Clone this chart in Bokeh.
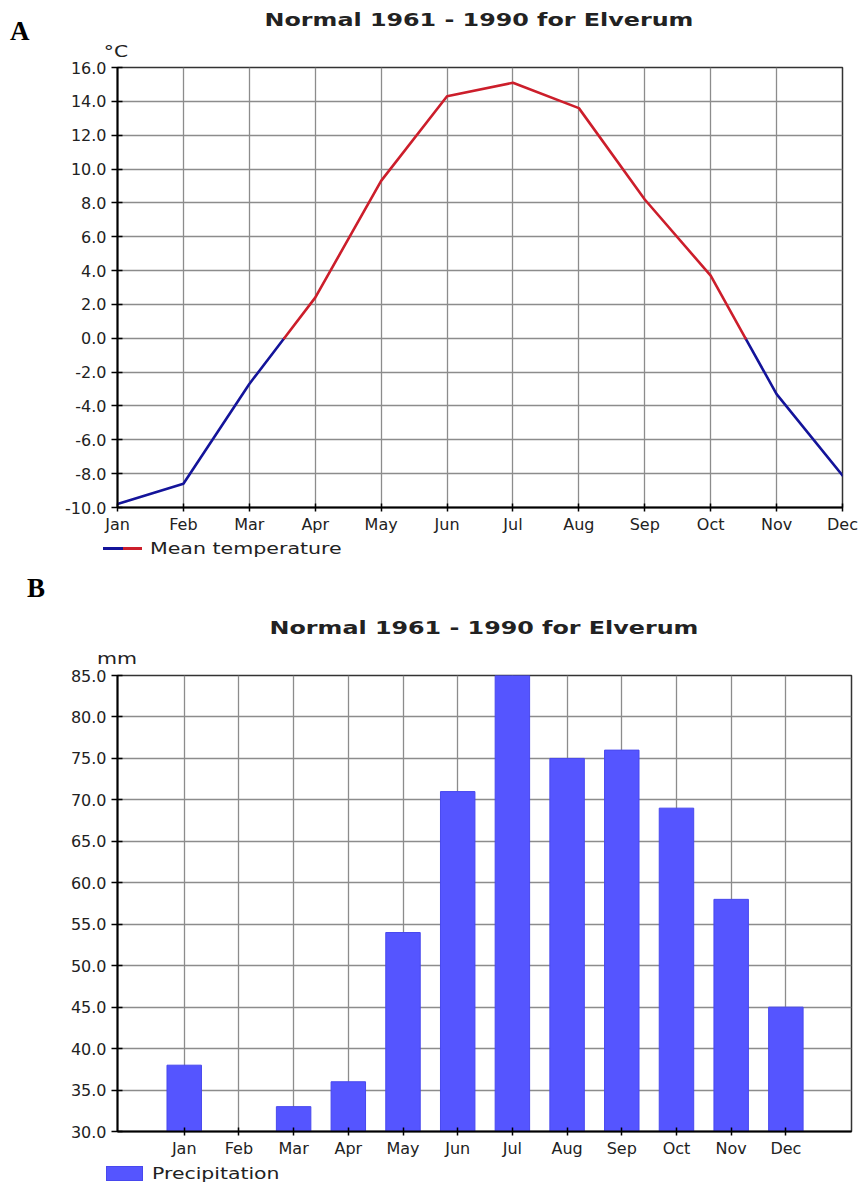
from bokeh.plotting import figure
from bokeh.models import Range1d, FixedTicker, NumeralTickFormatter, Div
from bokeh.layouts import column
from bokeh.embed import file_html
from bokeh.resources import INLINE

# ---------------- data ----------------
months = ["Jan", "Feb", "Mar", "Apr", "May", "Jun", "Jul", "Aug", "Sep", "Oct", "Nov", "Dec"]
mean_temperature = [-9.8, -8.6, -2.7, 2.4, 9.3, 14.3, 15.1, 13.6, 8.2, 3.7, -3.3, -8.1]
precipitation = [38, 28, 33, 36, 54, 71, 85, 75, 76, 69, 58, 45]
temp_ticks = list(range(-10, 17, 2))
precip_ticks = list(range(30, 86, 5))
title_text = "Normal 1961 - 1990 for Elverum"
temp_unit = "°C"
precip_unit = "mm"
temp_label = "Mean temperature"
precip_label = "Precipitation"

# ---------------- style ----------------
FONT = "DejaVu Sans"
TXT = "#222222"
GRID = "#8c8c8c"
RED = "#CC1E2B"
BLUE = "#14149A"
BAR = "#5555FF"
BAR_EDGE = "#4848EE"
W = 862

# vertical layout (page pixels)
HDR_A = 58                     # header A: 0..58
FIG_A = 479                    # figure A: 58..537, frame 67..507
MID = 129                      # legend A + header B: 537..666
FIG_B = 494                    # figure B: 666..1160, frame 675..1131
FTR_B = 1185 - HDR_A - FIG_A - MID - FIG_B   # legend B: 1160..1185
LEFT = 117
RIGHT_A, RIGHT_B = 20, 11


def text_box(text, cy, size, cx=None, left=None, bold=False, family=FONT, scale=1.0, color=TXT):
    lh = round(size * 1.2)
    top = cy - lh / 2
    weight = "bold" if bold else "normal"
    if cx is not None:
        pos = f"left:{cx - 300}px;width:600px;text-align:center;transform-origin:50% 50%;"
    else:
        pos = f"left:{left}px;text-align:left;transform-origin:0 50%;"
    return (f'<div style="position:absolute;{pos}top:{top}px;height:{lh}px;line-height:{lh}px;'
            f"font-family:'{family}';font-size:{size}px;font-weight:{weight};color:{color};"
            f'white-space:nowrap;transform:scaleX({scale});">{text}</div>')


def swatch(left, top, width, height, color, border=None):
    b = f"border:1px solid {border};box-sizing:border-box;" if border else ""
    return (f'<div style="position:absolute;left:{left}px;top:{top}px;width:{width}px;'
            f'height:{height}px;background:{color};{b}"></div>')


def panel(height, parts):
    inner = "".join(parts)
    html = (f'<div style="position:relative;width:{W}px;height:{height}px;margin:0;padding:0;'
            f'overflow:visible;">{inner}</div>')
    return Div(text=html, width=W, height=height, margin=0)


def style_axes(p):
    for ax in (p.xaxis[0], p.yaxis[0]):
        ax.axis_line_color = "black"
        ax.axis_line_width = 2
        ax.major_tick_line_color = "black"
        ax.major_tick_line_width = 1.5
        ax.minor_tick_line_color = None
        ax.major_label_text_font = FONT
        ax.major_label_text_font_size = "16px"
        ax.major_label_text_color = TXT
    p.yaxis[0].major_tick_out = 6
    p.yaxis[0].major_tick_in = 5
    p.yaxis[0].major_label_standoff = 5
    p.xaxis[0].major_tick_out = 4
    p.xaxis[0].major_tick_in = 4
    p.xaxis[0].major_label_standoff = 3
    p.grid.grid_line_color = GRID
    p.grid.grid_line_width = 1.3
    p.outline_line_color = "#333333"
    p.outline_line_width = 1.5
    p.background_fill_color = "white"
    p.border_fill_color = "white"
    if "frame_align" in p.properties():
        p.frame_align = False


xs = list(range(len(months)))

# ---------------- header A ----------------
hdr_a = panel(HDR_A, [
    text_box("A", cy=31, size=27, left=10, bold=True, family="Liberation Serif", color="black"),
    text_box(title_text, cy=20, size=17, cx=479, bold=True, scale=1.4),
    text_box(temp_unit, cy=52, size=15, cx=116, scale=1.35),
])

# ---------------- chart A ----------------
pa = figure(width=W, height=FIG_A, output_backend="svg", toolbar_location=None,
            x_range=Range1d(0, 11), y_range=Range1d(-10, 16),
            min_border_left=LEFT, min_border_right=RIGHT_A,
            min_border_top=9, min_border_bottom=FIG_A - 9 - 440)
pa.xaxis.ticker = FixedTicker(ticks=xs)
pa.xaxis.major_label_overrides = {i: m for i, m in enumerate(months)}
pa.yaxis.ticker = FixedTicker(ticks=temp_ticks)
pa.yaxis.formatter = NumeralTickFormatter(format="0.0")
pa.xgrid.ticker = FixedTicker(ticks=xs)
style_axes(pa)

# split the curve into runs above zero (red) and below zero (blue)
pts = []
for i in range(len(xs) - 1):
    x0, y0, x1, y1 = xs[i], mean_temperature[i], xs[i + 1], mean_temperature[i + 1]
    pts.append((x0, y0))
    if (y0 < 0) != (y1 < 0):
        xc = x0 + (0 - y0) / (y1 - y0) * (x1 - x0)
        pts.append((xc, 0.0))
pts.append((xs[-1], mean_temperature[-1]))

red_xs, red_ys, blue_xs, blue_ys = [], [], [], []


def flush(run):
    positive = sum(q[1] for q in run) > 0
    (red_xs if positive else blue_xs).append([q[0] for q in run])
    (red_ys if positive else blue_ys).append([q[1] for q in run])


run = [pts[0]]
for a, b in zip(pts[:-1], pts[1:]):
    run.append(b)
    if b[1] == 0.0 and a[1] != 0.0:
        flush(run)
        run = [b]
flush(run)

pa.multi_line(blue_xs, blue_ys, line_color=BLUE, line_width=2.6, line_join="round", line_cap="round")
pa.multi_line(red_xs, red_ys, line_color=RED, line_width=2.6, line_join="round", line_cap="round")

# ---------------- legend A + header B ----------------
mid = panel(MID, [
    swatch(103, 10, 20, 3, BLUE),
    swatch(123, 10, 19, 3, RED),
    text_box(temp_label, cy=12, size=15, left=150, scale=1.37),
    text_box("B", cy=51, size=27, left=27, bold=True, family="Liberation Serif", color="black"),
    text_box(title_text, cy=91, size=17, cx=484, bold=True, scale=1.4),
    text_box(precip_unit, cy=122, size=15, cx=117, scale=1.37),
])

# ---------------- chart B ----------------
pb = figure(width=W, height=FIG_B, output_backend="svg", toolbar_location=None,
            x_range=Range1d(-1.22, 12.2), y_range=Range1d(30, 85),
            min_border_left=LEFT, min_border_right=RIGHT_B,
            min_border_top=9, min_border_bottom=FIG_B - 9 - 456)
pb.xaxis.ticker = FixedTicker(ticks=xs)
pb.xaxis.major_label_overrides = {i: m for i, m in enumerate(months)}
pb.yaxis.ticker = FixedTicker(ticks=precip_ticks)
pb.yaxis.formatter = NumeralTickFormatter(format="0.0")
pb.xgrid.ticker = FixedTicker(ticks=xs)
style_axes(pb)

pb.vbar(x=xs, top=precipitation, bottom=0, width=0.63,
        fill_color=BAR, line_color=BAR_EDGE, line_width=1)

# ---------------- legend B ----------------
ftr_b = panel(FTR_B, [
    swatch(106, 6, 37, 15, BAR, BAR_EDGE),
    text_box(precip_label, cy=14, size=15, left=152, scale=1.36),
])

layout = column(hdr_a, pa, mid, pb, ftr_b, spacing=0)
open("out.html", "w").write(file_html(layout, INLINE))
